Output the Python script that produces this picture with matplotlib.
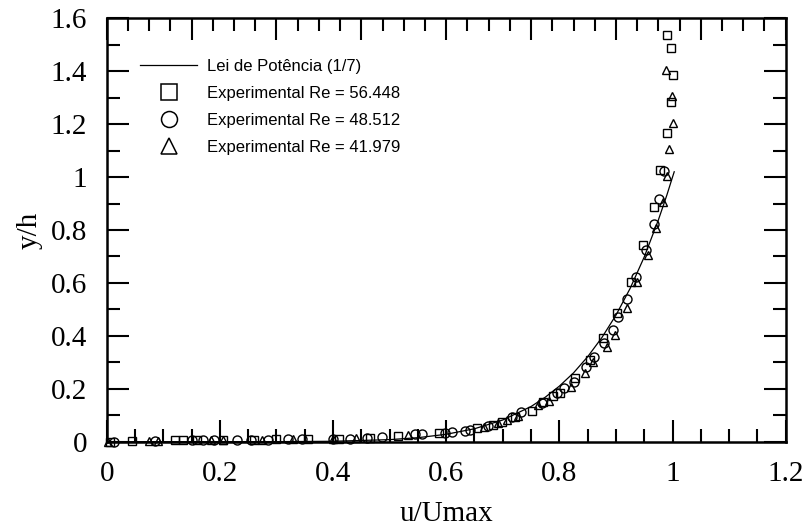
import matplotlib
matplotlib.use("Agg")
import matplotlib.pyplot as plt
from matplotlib.ticker import MultipleLocator, FixedLocator
from matplotlib.lines import Line2D

# Lei de Potencia (1/7): pontos da curva u/Umax x y/h
lei_u = [0.0, 0.30, 0.40, 0.50, 0.55, 0.60, 0.65, 0.70, 0.75, 0.775, 0.80,
         0.825, 0.85, 0.875, 0.90, 0.925, 0.95, 0.975, 0.99, 1.0, 1.003]
lei_y = [0.0, 0.0002, 0.0016, 0.0078, 0.0152, 0.028, 0.049, 0.082, 0.133,
         0.168, 0.210, 0.260, 0.321, 0.393, 0.478, 0.579, 0.698, 0.838,
         0.932, 1.0, 1.02]

# Experimental Re = 56.448 (quadrados)
sq_u = [0.005, 0.045, 0.12, 0.135, 0.16, 0.205, 0.26, 0.30, 0.355, 0.41,
        0.465, 0.515, 0.588, 0.654, 0.683, 0.698, 0.722, 0.751, 0.771,
        0.789, 0.801, 0.828, 0.854, 0.878, 0.901, 0.926, 0.947, 0.967,
        0.977, 0.991, 0.997, 1.001, 0.997, 0.990]
sq_y = [0.0, 0.004, 0.005, 0.006, 0.006, 0.007, 0.008, 0.009, 0.010, 0.011,
        0.013, 0.020, 0.032, 0.050, 0.063, 0.076, 0.094, 0.117, 0.151,
        0.173, 0.183, 0.239, 0.309, 0.390, 0.487, 0.604, 0.745, 0.885,
        1.026, 1.167, 1.284, 1.385, 1.486, 1.536]

# Experimental Re = 48.512 (circulos)
ci_u = [0.012, 0.085, 0.15, 0.17, 0.19, 0.23, 0.255, 0.285, 0.32, 0.345,
        0.40, 0.43, 0.46, 0.486, 0.545, 0.558, 0.598, 0.610, 0.633, 0.642,
        0.674, 0.716, 0.733, 0.769, 0.795, 0.808, 0.826, 0.847, 0.861,
        0.879, 0.895, 0.904, 0.919, 0.935, 0.953, 0.967, 0.976, 0.985]
ci_y = [0.0, 0.004, 0.005, 0.006, 0.007, 0.007, 0.008, 0.008, 0.009, 0.010,
        0.011, 0.012, 0.014, 0.019, 0.029, 0.030, 0.034, 0.038, 0.042, 0.044,
        0.059, 0.092, 0.111, 0.145, 0.183, 0.202, 0.227, 0.283, 0.321,
        0.374, 0.422, 0.470, 0.541, 0.621, 0.723, 0.822, 0.919, 1.023]

# Experimental Re = 41.979 (triangulos)
tr_u = [0.002, 0.075, 0.09, 0.185, 0.205, 0.275, 0.33, 0.40, 0.44, 0.533,
        0.666, 0.692, 0.707, 0.727, 0.763, 0.781, 0.820, 0.845, 0.860,
        0.885, 0.898, 0.919, 0.938, 0.957, 0.971, 0.984, 0.991, 0.994,
        1.001, 0.999, 0.988]
tr_y = [0.0, 0.004, 0.004, 0.006, 0.007, 0.008, 0.010, 0.012, 0.013, 0.025,
        0.057, 0.069, 0.082, 0.098, 0.139, 0.155, 0.208, 0.258, 0.302,
        0.356, 0.403, 0.504, 0.604, 0.705, 0.806, 0.906, 1.005, 1.105,
        1.205, 1.307, 1.406]

serif = "Liberation Serif"
sans = "Liberation Sans"

fig = plt.figure(figsize=(8.06, 5.3), dpi=100)
ax = fig.add_axes([0.1324, 0.1666, 0.8424, 0.7989])

ax.plot(lei_u, lei_y, color="black", lw=0.9, zorder=2)

mk = dict(ls="none", mfc="none", mec="black", mew=1.0, clip_on=False, zorder=3)
ax.plot(sq_u, sq_y, marker="s", ms=6, **mk)
ax.plot(ci_u, ci_y, marker="o", ms=6.5, **mk)
ax.plot(tr_u, tr_y, marker="^", ms=6, **mk)

ax.set_xlim(0, 1.2)
ax.set_ylim(0, 1.6)
ax.xaxis.set_major_locator(MultipleLocator(0.2))
ax.xaxis.set_minor_locator(MultipleLocator(0.05))
ax.yaxis.set_major_locator(MultipleLocator(0.2))
ax.yaxis.set_minor_locator(MultipleLocator(0.1))
ax.xaxis.set_major_formatter(plt.FuncFormatter(lambda v, p: f"{v:g}"))
ax.yaxis.set_major_formatter(plt.FuncFormatter(lambda v, p: f"{v:g}"))

ax.tick_params(which="both", direction="in", right=True, top=False,
               width=1.5, labelsize=21)
ax.tick_params(which="major", length=16)
ax.tick_params(which="minor", length=9.5)
ax.tick_params(axis="x", pad=14)
ax.tick_params(axis="y", pad=14)
for lbl in ax.get_xticklabels() + ax.get_yticklabels():
    lbl.set_fontfamily(serif)
for sp in ax.spines.values():
    sp.set_linewidth(1.8)

# eixo superior com divisao propria
top = ax.twiny()
top.set_xlim(0, 1.2)
top.xaxis.set_major_locator(FixedLocator([0.15 * i for i in range(9)]))
top.xaxis.set_minor_locator(MultipleLocator(0.0375))
top.tick_params(which="both", direction="in", width=1.5, labeltop=False)
top.tick_params(which="major", length=16)
top.tick_params(which="minor", length=9.5)
for sp in top.spines.values():
    sp.set_visible(False)

ax.set_xlabel("u/Umax", fontsize=21, fontfamily=serif, labelpad=10)
ax.set_ylabel("y/h", fontsize=21, fontfamily=serif, labelpad=6)

handles = [
    Line2D([], [], color="black", lw=0.9),
    Line2D([], [], ls="none", marker="s", ms=11.5, mfc="none", mec="black", mew=1.1),
    Line2D([], [], ls="none", marker="o", ms=11.5, mfc="none", mec="black", mew=1.1),
    Line2D([], [], ls="none", marker="^", ms=11.5, mfc="none", mec="black", mew=1.1),
]
labels = ["Lei de Potência (1/7)", "Experimental Re = 56.448",
          "Experimental Re = 48.512", "Experimental Re = 41.979"]
ax.legend(handles, labels, loc="upper left", bbox_to_anchor=(0.049, 0.905),
          frameon=False, borderpad=0, borderaxespad=0, handlelength=3.45,
          handletextpad=0.58, labelspacing=0.72,
          prop={"family": sans, "size": 12})

fig.savefig("out.png", dpi=100)
